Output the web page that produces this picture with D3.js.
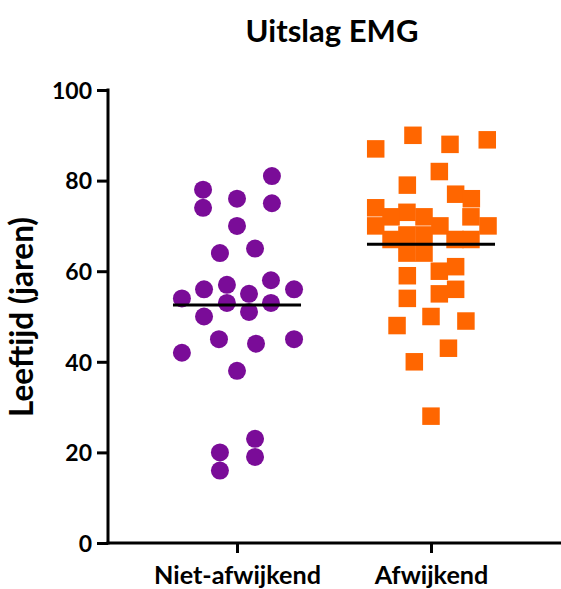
<!DOCTYPE html>
<html><head><meta charset="utf-8">
<script src="https://cdn.jsdelivr.net/npm/d3@7"></script>
<style>
body{margin:0;background:#fff;}
text{font-family:Lato,"Open Sans",sans-serif;font-weight:700;fill:#000;}
</style></head>
<body><svg id="c" width="561" height="589"></svg>
<script>
const title = "Uitslag EMG";
const yLabel = "Leeftijd (jaren)";
const categories = ["Niet-afwijkend", "Afwijkend"];
const yTicks = [0, 20, 40, 60, 80, 100];

// Niet-afwijkend ages and horizontal scatter offsets (fraction of category step)
const normalAges = [81, 78, 76, 75, 74, 70, 64, 65, 58, 56, 56, 57, 55, 54, 53, 53, 51, 50, 45, 44, 45, 42, 38, 23, 20, 19, 16];
const normalJitter = [0.18, -0.175, 0, 0.18, -0.175, 0, -0.088, 0.093, 0.175, 0.294, -0.17, -0.052, 0.062, -0.284, -0.052, 0.175, 0.062, -0.17, -0.093, 0.098, 0.294, -0.284, 0, 0.093, -0.088, 0.093, -0.088];

// Afwijkend ages and offsets
const abnormalAges = [87, 90, 88, 89, 82, 79, 77, 76,
  74, 73, 72, 72, 72, 70, 70, 70, 68, 68, 67, 67, 67, 64, 64,
  59, 60, 61, 54, 55, 56, 48, 50, 49, 43, 40, 28];
const abnormalJitter = [-0.285, -0.093, 0.098, 0.29, 0.043, -0.122, 0.127, 0.208,
  -0.285, -0.124, -0.206, -0.036, 0.206, -0.285, 0.046, 0.294, -0.124, -0.036, -0.206, 0.124, 0.206, -0.124, -0.036,
  -0.122, 0.043, 0.127, -0.122, 0.043, 0.127, -0.175, 0, 0.18, 0.09, -0.086, 0];

const colors = ["#7a0c98", "#ff6600"];

const svg = d3.select("#c");
const m = {left: 108, right: 560, top: 90, bottom: 543};
const x = d3.scalePoint().domain(categories).range([m.left, m.right]).padding(0.665);
const y = d3.scaleLinear().domain([0, 100]).range([m.bottom, m.top]);

function fit(sel, target) {
  const w = sel.node().getComputedTextLength();
  const fs = parseFloat(sel.style("font-size"));
  sel.style("font-size", (fs * target / w) + "px");
}

// title
const t = svg.append("text").attr("x", 332).attr("y", 42).attr("text-anchor", "middle")
  .style("font-size", "30px").text(title);
fit(t, 173);

// y label
const yl = svg.append("text").attr("transform", "translate(33,317) rotate(-90)")
  .attr("text-anchor", "middle").style("font-size", "24px").text(yLabel);
fit(yl, 200);

// y axis
const ya = svg.append("g").attr("transform", `translate(${m.left},0)`)
  .call(d3.axisLeft(y).tickValues(yTicks).tickSize(11).tickPadding(5).tickFormat(d3.format("d")));
ya.select(".domain").attr("stroke-width", 3).attr("d", `M0,${m.bottom + 1.5}V${m.top - 1.5}`);
ya.selectAll(".tick line").attr("stroke-width", 3);
ya.selectAll(".tick text").style("font-size", "23px").style("font-family", "Lato,sans-serif").style("font-weight", 700).attr("dy", "0.36em");

// x axis
const xa = svg.append("g").attr("transform", `translate(0,${m.bottom})`)
  .call(d3.axisBottom(x).tickSize(10).tickPadding(13));
xa.select(".domain").attr("stroke-width", 3).attr("d", `M${m.left - 1.5},0H${m.right + 2}`);
xa.selectAll(".tick line").attr("stroke-width", 3);
const xt = xa.selectAll(".tick text").style("font-size", "22px").style("font-family", "Lato,sans-serif").style("font-weight", 700);
const first = d3.select(xt.nodes()[0]);
fit(first, 167);
xt.style("font-size", first.style("font-size"));

const step = x.step();
const normal = normalAges.map((v, i) => ({v, j: normalJitter[i]}));
const abnormal = abnormalAges.map((v, i) => ({v, j: abnormalJitter[i]}));

svg.append("g").selectAll("circle").data(normal).join("circle")
  .attr("cx", d => x(categories[0]) + d.j * step)
  .attr("cy", d => y(d.v))
  .attr("r", 9).attr("fill", colors[0]);

const s = 17.5;
svg.append("g").selectAll("rect").data(abnormal).join("rect")
  .attr("x", d => x(categories[1]) + d.j * step - s / 2)
  .attr("y", d => y(d.v) - s / 2)
  .attr("width", s).attr("height", s).attr("fill", colors[1]);

// mean lines
const groups = [normalAges, abnormalAges];
const half = 0.33 * step;
svg.append("g").selectAll("line").data(groups).join("line")
  .attr("x1", (d, i) => x(categories[i]) - half)
  .attr("x2", (d, i) => x(categories[i]) + half)
  .attr("y1", d => y(d3.mean(d))).attr("y2", d => y(d3.mean(d)))
  .attr("stroke", "#000").attr("stroke-width", 3);
</script></body></html>
